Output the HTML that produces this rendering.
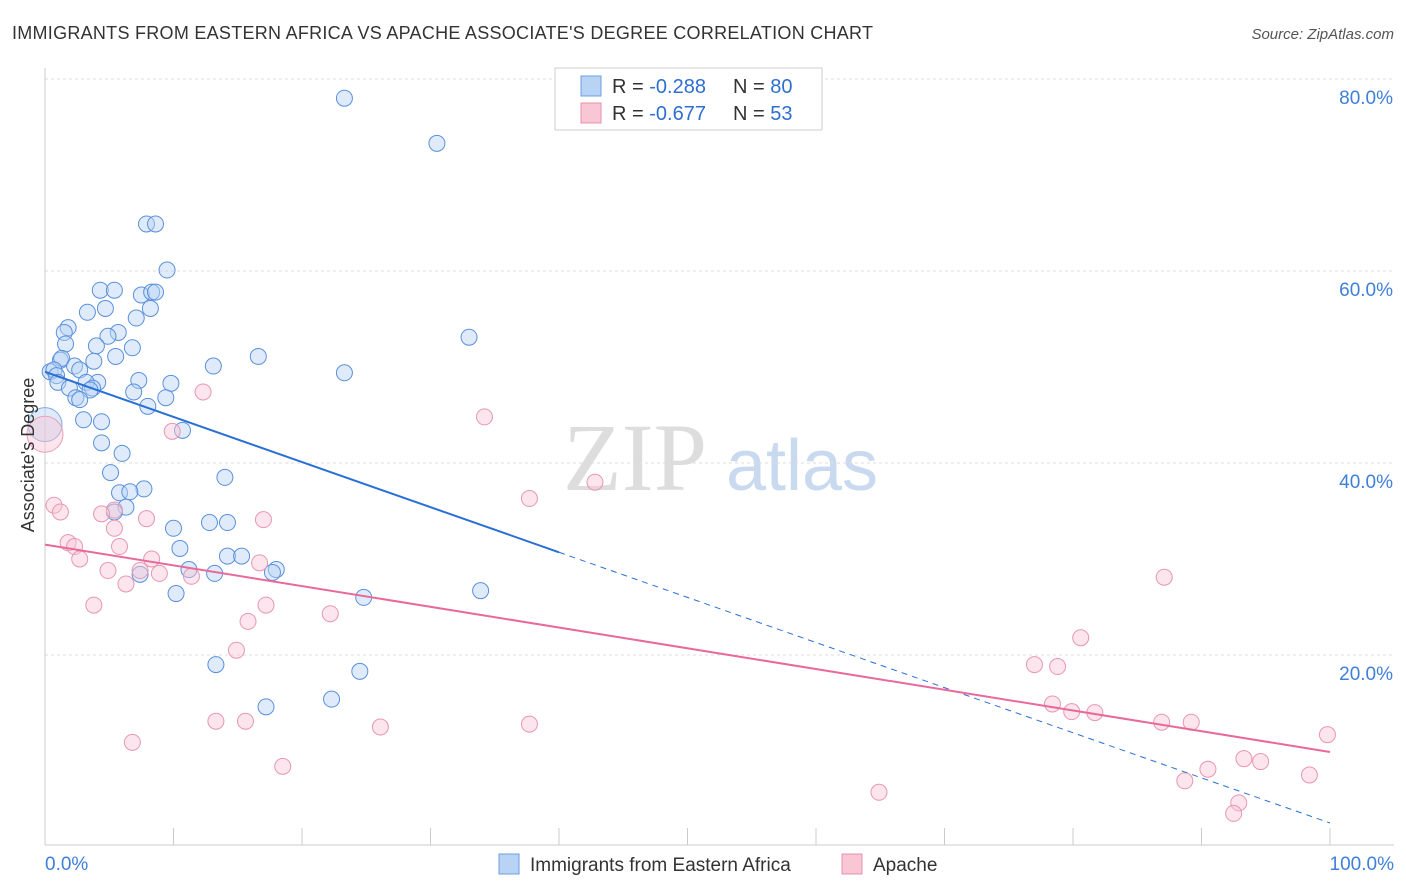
<!DOCTYPE html>
<html><head><meta charset="utf-8">
<style>
body{margin:0;background:#fff;font-family:"Liberation Sans",sans-serif;}
#wrap{position:relative;width:1406px;height:892px;overflow:hidden;}
</style></head>
<body>
<div id="wrap">
<svg id="chart" width="1406" height="892" xmlns="http://www.w3.org/2000/svg">
<text x="12" y="39" font-size="18" fill="#333" textLength="861">IMMIGRANTS FROM EASTERN AFRICA VS APACHE ASSOCIATE'S DEGREE CORRELATION CHART</text>
<text x="1394" y="39" font-size="15" fill="#555" font-style="italic" text-anchor="end">Source: ZipAtlas.com</text>
<g>
<text x="635" y="490" font-size="96" fill="#ddd" font-family="Liberation Serif,serif" text-anchor="middle">ZIP</text>
<text x="802" y="490" font-size="72" fill="#c9d9ef" text-anchor="middle">atlas</text>
</g>
<g id="grid"></g>
<g id="axes"></g>
<g id="pts"></g>
<g id="lines"></g>
<g>
<rect x="555" y="68" width="267" height="62" fill="#fff" stroke="#ccc"/>
<rect x="581" y="76" width="20" height="20" fill="#b9d3f5" stroke="#6a9fe0"/>
<text x="612" y="93" font-size="20" fill="#333">R = <tspan fill="#2f6fd0">-0.288</tspan></text>
<text x="733" y="93" font-size="20" fill="#333">N = <tspan fill="#2f6fd0">80</tspan></text>
<rect x="581" y="103" width="20" height="20" fill="#f9c6d5" stroke="#e890ab"/>
<text x="612" y="120" font-size="20" fill="#333">R = <tspan fill="#2f6fd0">-0.677</tspan></text>
<text x="733" y="120" font-size="20" fill="#333">N = <tspan fill="#2f6fd0"> 53</tspan></text>
</g>
<g>
<rect x="499" y="854" width="20" height="20" fill="#b9d3f5" stroke="#6a9fe0"/>
<text x="530" y="871" font-size="19" fill="#333">Immigrants from Eastern Africa</text>
<rect x="842" y="854" width="20" height="20" fill="#f9c6d5" stroke="#e890ab"/>
<text x="873" y="871" font-size="19" fill="#333">Apache</text>
</g>
<text x="34" y="455" font-size="18" fill="#333" text-anchor="middle" transform="rotate(-90 34 455)">Associate's Degree</text>
</svg>
</div>
<script>
const yTicks=[20,40,60,80];
const yTickLabels=["20.0%","40.0%","60.0%","80.0%"];
const xTickLabels=["0.0%","100.0%"];
const bluePx=[[344,98],[437,143],[146,224],[156,224],[167,270],[100,290],[114,290],[142,295],[152,292],[156,292],[151,308],[88,312],[106,308],[136,318],[68,328],[64,332],[118,332],[108,336],[66,344],[96,346],[132,348],[60,360],[62,358],[116,356],[94,361],[258,356],[213,366],[469,337],[74,366],[50,372],[54,370],[56,376],[80,370],[344,373],[58,382],[98,382],[86,382],[139,380],[171,383],[70,388],[92,388],[90,390],[134,392],[76,398],[80,400],[166,398],[148,406],[84,420],[102,422],[182,430],[102,443],[122,453],[110,473],[225,477],[144,489],[120,493],[130,492],[126,507],[114,512],[210,523],[228,523],[173,528],[180,548],[228,556],[241,556],[189,570],[276,570],[272,572],[214,573],[140,574],[176,594],[364,597],[481,591],[216,665],[360,671],[332,699],[266,707]];
const pinkPx=[[203,392],[484,417],[172,431],[529,499],[595,482],[54,505],[60,512],[114,510],[102,514],[146,519],[264,520],[114,528],[68,543],[74,547],[120,547],[80,559],[152,559],[260,563],[108,571],[140,571],[160,573],[192,576],[126,584],[94,605],[266,605],[330,614],[248,621],[237,650],[1164,577],[1081,638],[1035,665],[1058,667],[1052,704],[1072,712],[1095,713],[216,721],[245,721],[529,724],[380,727],[1162,722],[1191,722],[1327,735],[132,742],[283,766],[1244,759],[1260,762],[1208,769],[1309,775],[1185,781],[879,792],[1239,803],[1233,813]];
const blueX=bluePx.map(p=>+((p[0]-45)/12.85).toFixed(1));
const blueY=bluePx.map(p=>+((847-p[1])/9.6).toFixed(1));
const pinkX=pinkPx.map(p=>+((p[0]-45)/12.85).toFixed(1));
const pinkY=pinkPx.map(p=>+((847-p[1])/9.6).toFixed(1));
const blueTrend=[49.5,2.5];
const pinkTrend=[31.5,9.9];
const blueSolidEnd=40;
const ns="http://www.w3.org/2000/svg";
const X=v=>45+v*12.85, Y=v=>847-v*9.6;
function mk(tag,at,parent){const e=document.createElementNS(ns,tag);for(const k in at)e.setAttribute(k,at[k]);document.getElementById(parent).appendChild(e);return e;}
yTicks.forEach((t,i)=>{
 const l=mk('line',{x1:45,x2:1394,y1:Y(t),y2:Y(t),stroke:'#ddd','stroke-dasharray':'3,3'},'grid');
 
 
 const tx=mk('text',{x:1393,y:Y(t)+25,'font-size':19,fill:'#3f7fd8','text-anchor':'end'},'axes');
 tx.textContent=yTickLabels[i];
 
 
});
let a=mk('line',{x1:45,x2:45,y1:68,y2:845,stroke:'#ccc'},'axes');


a=mk('line',{x1:45,x2:1394,y1:845,y2:845,stroke:'#ccc'},'axes');


for(let i=0;i<=10;i++){const t=mk('line',{x1:X(i*10),x2:X(i*10),y1:828,y2:845,stroke:'#ccc'},'axes');
 
 }
[[0,'start',45],[1,'end',1394]].forEach(([i,anc,x])=>{const t=mk('text',{x:x,y:870,'font-size':19,fill:'#3f7fd8','text-anchor':anc},'axes');t.textContent=xTickLabels[i];
 
 });
function dot(x,y,r,fill,stroke,name){const c=mk('circle',{cx:X(x),cy:Y(y),r:r,fill:fill,'fill-opacity':0.45,stroke:stroke,'stroke-width':1},'pts');
 
 }
dot(0,44,17,'#b9d3f5','#7aa8e3','blue-point-large');
dot(0,43,18,'#f9c6d5','#eba0b8','pink-point-large');
blueX.forEach((x,i)=>dot(x,blueY[i],8,'#b9d3f5','#5a90dc','blue-point'));
pinkX.forEach((x,i)=>dot(x,pinkY[i],8,'#f9c6d5','#e897b2','pink-point'));
const by=x=>blueTrend[0]+(blueTrend[1]-blueTrend[0])*x/100;
let l=mk('line',{x1:X(0),y1:Y(by(0)),x2:X(blueSolidEnd),y2:Y(by(blueSolidEnd)),stroke:'#2a6fd6','stroke-width':2},'lines');


l=mk('line',{x1:X(blueSolidEnd),y1:Y(by(blueSolidEnd)),x2:X(100),y2:Y(by(100)),stroke:'#2a6fd6','stroke-width':1,'stroke-dasharray':'6,5'},'lines');


l=mk('line',{x1:X(0),y1:Y(pinkTrend[0]),x2:X(100),y2:Y(pinkTrend[1]),stroke:'#e8699a','stroke-width':2},'lines');


</script>
</body></html>
